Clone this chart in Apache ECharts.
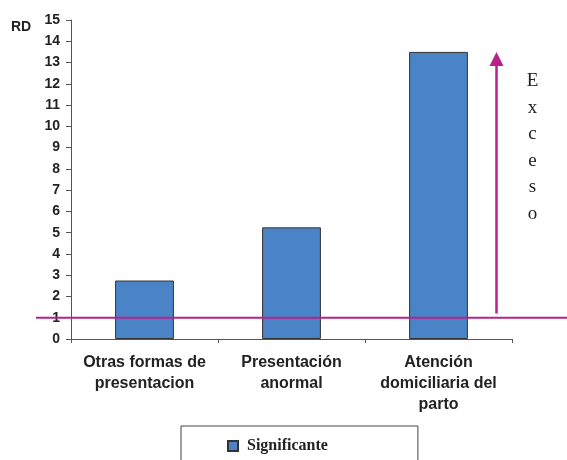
<!DOCTYPE html>
<html>
<head>
<meta charset="utf-8">
<script src="https://cdn.jsdelivr.net/npm/echarts@6/dist/echarts.min.js"></script>
<style>
  html, body { margin: 0; padding: 0; background: #fff; }
  #chart { width: 567px; height: 460px; }
</style>
</head>
<body>
<div id="chart"></div>
<script>
// Risk difference (RD) by factor
const categories = ['Otras formas de\npresentacion', 'Presentación\nanormal', 'Atención\ndomiciliaria del\nparto'];
const rdValues = [2.75, 5.25, 13.5];
const seriesName = 'Significante';
const referenceValue = 1;      // no-effect line
const arrowFrom = 1.2;         // "Exceso" arrow span on the RD scale
const arrowTo = 13.4;
const yTicks = { min: 0, max: 15, interval: 1 };

const magenta = '#b9218c';
const chart = echarts.init(document.getElementById('chart'));

chart.setOption({
  animation: false,
  grid: { left: 71, right: 55, top: 20, bottom: 121 },
  legend: {
    data: [seriesName],
    left: 181, top: 426,
    padding: [12, 90, 40, 46],
    borderColor: '#444', borderWidth: 1,
    itemWidth: 10, itemHeight: 10, itemGap: 10,
    icon: 'rect',
    textStyle: { fontFamily: 'Liberation Serif', fontWeight: 'bold', fontSize: 16, color: '#222', padding: [0, 0, 0, 4] }
  },
  xAxis: {
    type: 'category',
    data: categories,
    axisLine: { lineStyle: { color: '#555', width: 1 } },
    axisTick: { show: true, length: 4, alignWithLabel: false, lineStyle: { color: '#555' } },
    axisLabel: {
      interval: 0, margin: 13, lineHeight: 21,
      fontFamily: 'Liberation Sans', fontWeight: 'bold', fontSize: 16, color: '#222'
    }
  },
  yAxis: {
    type: 'value',
    min: yTicks.min, max: yTicks.max, interval: yTicks.interval,
    splitLine: { show: false },
    axisLine: { show: true, lineStyle: { color: '#555', width: 1 } },
    axisTick: { show: true, length: 5, lineStyle: { color: '#555' } },
    axisLabel: {
      margin: 11,
      fontFamily: 'Liberation Sans', fontWeight: 'bold', fontSize: 14, color: '#222'
    }
  },
  series: [{
    name: seriesName,
    type: 'bar',
    data: rdValues,
    barWidth: '40%',
    itemStyle: { color: '#4a84c6', borderColor: '#333', borderWidth: 1 }
  }]
});

// Reference line, arrow and axis title placed through the chart's own scales
function drawOverlay() {
  const yRef = chart.convertToPixel({ yAxisIndex: 0 }, referenceValue);
  const yA0 = chart.convertToPixel({ yAxisIndex: 0 }, arrowFrom);
  const yA1 = chart.convertToPixel({ yAxisIndex: 0 }, arrowTo);
  const yTop = chart.convertToPixel({ yAxisIndex: 0 }, yTicks.max);
  const xLast = chart.convertToPixel({ xAxisIndex: 0 }, categories.length - 1);
  const xArrow = xLast + 58;
  const letters = 'Exceso'.split('');
  const graphics = [
    {
      type: 'line', z: 10,
      shape: { x1: 36, y1: yRef, x2: 567, y2: yRef },
      style: { stroke: magenta, lineWidth: 2 }
    },
    {
      type: 'line', z: 10,
      shape: { x1: xArrow, y1: yA0, x2: xArrow, y2: yA1 + 10 },
      style: { stroke: magenta, lineWidth: 2.5 }
    },
    {
      type: 'polygon', z: 10,
      shape: { points: [[xArrow, yA1 - 2], [xArrow - 7, yA1 + 12], [xArrow + 7, yA1 + 12]] },
      style: { fill: magenta }
    },
    {
      type: 'text', left: 11, top: yTop,
      style: { text: 'RD', font: 'bold 14px "Liberation Sans"', fill: '#222' }
    }
  ];
  letters.forEach((ch, i) => {
    graphics.push({
      type: 'text',
      x: xArrow + 36, y: yA1 + 27 + i * 26.6,
      style: {
        text: ch, font: '19px "Liberation Serif"', fill: '#222',
        align: 'center', verticalAlign: 'middle'
      }
    });
  });
  chart.setOption({ graphic: graphics });
}
drawOverlay();
</script>
</body>
</html>
